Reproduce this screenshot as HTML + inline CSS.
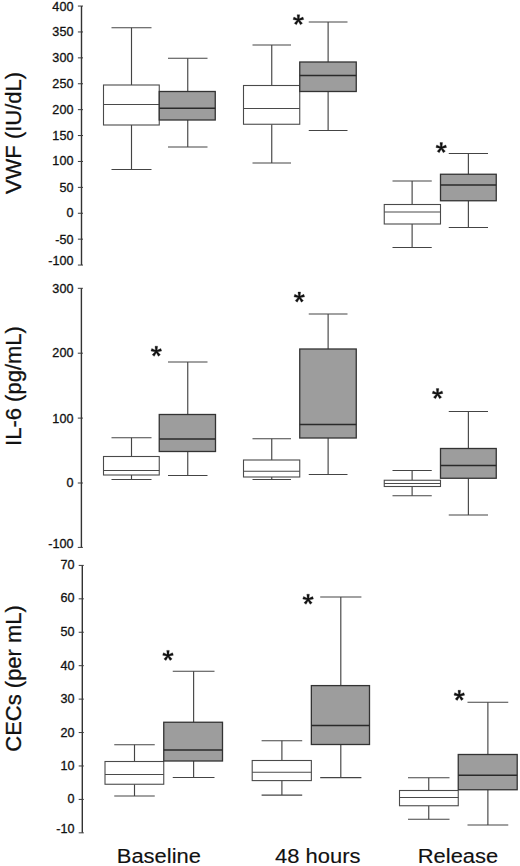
<!DOCTYPE html>
<html><head><meta charset="utf-8"><style>
html,body{margin:0;padding:0;background:#fff;}
svg{display:block;}
text{font-family:"Liberation Sans",sans-serif;fill:#111;stroke:#111;stroke-width:0.3px;}
.tl{font-size:12px;text-anchor:end;}
.ti{font-size:22px;text-anchor:middle;}
.xl{font-size:21px;text-anchor:middle;stroke-width:0.15px;}
.st{font-size:29px;font-weight:bold;text-anchor:middle;stroke-width:0.7px;}
</style></head><body>
<svg width="520" height="866" viewBox="0 0 520 866">
<g stroke="#3a3a3a" stroke-width="1.2" fill="none">
<line x1="81.5" y1="6.06" x2="81.5" y2="265.06" stroke="#333" stroke-width="1.4" />
<line x1="77.9" y1="6.06" x2="83" y2="6.06" stroke-width="1" />
<line x1="77.9" y1="31.96" x2="83" y2="31.96" stroke-width="1" />
<line x1="77.9" y1="57.86" x2="83" y2="57.86" stroke-width="1" />
<line x1="77.9" y1="83.76" x2="83" y2="83.76" stroke-width="1" />
<line x1="77.9" y1="109.66" x2="83" y2="109.66" stroke-width="1" />
<line x1="77.9" y1="135.56" x2="83" y2="135.56" stroke-width="1" />
<line x1="77.9" y1="161.46" x2="83" y2="161.46" stroke-width="1" />
<line x1="77.9" y1="187.36" x2="83" y2="187.36" stroke-width="1" />
<line x1="77.9" y1="213.26" x2="83" y2="213.26" stroke-width="1" />
<line x1="77.9" y1="239.16" x2="83" y2="239.16" stroke-width="1" />
<line x1="77.9" y1="265.06" x2="83" y2="265.06" stroke-width="1" />
<text transform="translate(73.4,10.6) scale(1.05,1)" class="tl">400</text>
<text transform="translate(73.4,36) scale(1.05,1)" class="tl">350</text>
<text transform="translate(73.4,61.7) scale(1.05,1)" class="tl">300</text>
<text transform="translate(73.4,87.6) scale(1.05,1)" class="tl">250</text>
<text transform="translate(73.4,113.5) scale(1.05,1)" class="tl">200</text>
<text transform="translate(73.4,139.6) scale(1.05,1)" class="tl">150</text>
<text transform="translate(73.4,165.4) scale(1.05,1)" class="tl">100</text>
<text transform="translate(73.4,191.5) scale(1.05,1)" class="tl">50</text>
<text transform="translate(73.4,217) scale(1.05,1)" class="tl">0</text>
<text transform="translate(73.4,243.5) scale(1.05,1)" class="tl">-50</text>
<text transform="translate(73.4,265.1) scale(1.05,1)" class="tl">-100</text>
<line x1="81.4" y1="288.3" x2="81.4" y2="547.4" stroke="#333" stroke-width="1.4" />
<line x1="77.8" y1="288.3" x2="82.9" y2="288.3" stroke-width="1" />
<line x1="77.8" y1="353.2" x2="82.9" y2="353.2" stroke-width="1" />
<line x1="77.8" y1="418.1" x2="82.9" y2="418.1" stroke-width="1" />
<line x1="77.8" y1="483" x2="82.9" y2="483" stroke-width="1" />
<line x1="77.8" y1="547.4" x2="82.9" y2="547.4" stroke-width="1" />
<text transform="translate(73.4,293.1) scale(1.05,1)" class="tl">300</text>
<text transform="translate(73.4,357.1) scale(1.05,1)" class="tl">200</text>
<text transform="translate(73.4,422.6) scale(1.05,1)" class="tl">100</text>
<text transform="translate(73.4,486.9) scale(1.05,1)" class="tl">0</text>
<text transform="translate(73.4,547.7) scale(1.05,1)" class="tl">-100</text>
<line x1="82.3" y1="565.4" x2="82.3" y2="832.84" stroke="#333" stroke-width="1.4" />
<line x1="78.7" y1="565.4" x2="83.8" y2="565.4" stroke-width="1" />
<line x1="78.7" y1="598.83" x2="83.8" y2="598.83" stroke-width="1" />
<line x1="78.7" y1="632.26" x2="83.8" y2="632.26" stroke-width="1" />
<line x1="78.7" y1="665.69" x2="83.8" y2="665.69" stroke-width="1" />
<line x1="78.7" y1="699.12" x2="83.8" y2="699.12" stroke-width="1" />
<line x1="78.7" y1="732.55" x2="83.8" y2="732.55" stroke-width="1" />
<line x1="78.7" y1="765.98" x2="83.8" y2="765.98" stroke-width="1" />
<line x1="78.7" y1="799.41" x2="83.8" y2="799.41" stroke-width="1" />
<line x1="78.7" y1="832.84" x2="83.8" y2="832.84" stroke-width="1" />
<text transform="translate(74.4,568.9) scale(1.05,1)" class="tl">70</text>
<text transform="translate(74.4,602.1) scale(1.05,1)" class="tl">60</text>
<text transform="translate(74.4,636.4) scale(1.05,1)" class="tl">50</text>
<text transform="translate(74.4,669.5) scale(1.05,1)" class="tl">40</text>
<text transform="translate(74.4,703.4) scale(1.05,1)" class="tl">30</text>
<text transform="translate(74.4,737.3) scale(1.05,1)" class="tl">20</text>
<text transform="translate(74.4,769.8) scale(1.05,1)" class="tl">10</text>
<text transform="translate(74.4,803.4) scale(1.05,1)" class="tl">0</text>
<text transform="translate(74.4,832.8) scale(1.05,1)" class="tl">-10</text>
<g stroke="#444" stroke-width="1.15"><line x1="131.5" y1="27.75" x2="131.5" y2="85" /><line x1="131.5" y1="125" x2="131.5" y2="169.5" /><line x1="111.5" y1="27.75" x2="151.5" y2="27.75" /><line x1="111.5" y1="169.5" x2="151.5" y2="169.5" /></g>
<g stroke="#444" stroke-width="1.15"><line x1="187.75" y1="58.25" x2="187.75" y2="91.5" /><line x1="187.75" y1="120" x2="187.75" y2="147" /><line x1="168" y1="58.25" x2="207.5" y2="58.25" /><line x1="168" y1="147" x2="207.5" y2="147" /></g>
<g stroke="#444" stroke-width="1.15"><line x1="271.75" y1="45" x2="271.75" y2="85.5" /><line x1="271.75" y1="124.25" x2="271.75" y2="163" /><line x1="252.5" y1="45" x2="291" y2="45" /><line x1="252.5" y1="163" x2="291" y2="163" /></g>
<g stroke="#444" stroke-width="1.15"><line x1="328.12" y1="22" x2="328.12" y2="62" /><line x1="328.12" y1="91.5" x2="328.12" y2="130.5" /><line x1="308.75" y1="22" x2="347.5" y2="22" /><line x1="308.75" y1="130.5" x2="347.5" y2="130.5" /></g>
<g stroke="#444" stroke-width="1.15"><line x1="412.12" y1="181" x2="412.12" y2="204.5" /><line x1="412.12" y1="224" x2="412.12" y2="247.5" /><line x1="392.5" y1="181" x2="431.75" y2="181" /><line x1="392.5" y1="247.5" x2="431.75" y2="247.5" /></g>
<g stroke="#444" stroke-width="1.15"><line x1="468.38" y1="153.5" x2="468.38" y2="174.25" /><line x1="468.38" y1="200.75" x2="468.38" y2="227.5" /><line x1="448.75" y1="153.5" x2="488" y2="153.5" /><line x1="448.75" y1="227.5" x2="488" y2="227.5" /></g>
<g stroke="#444" stroke-width="1.15"><line x1="131.5" y1="437.75" x2="131.5" y2="456.5" /><line x1="131.5" y1="475" x2="131.5" y2="479.5" /><line x1="111.5" y1="437.75" x2="151.5" y2="437.75" /><line x1="111.5" y1="479.5" x2="151.5" y2="479.5" /></g>
<g stroke="#444" stroke-width="1.15"><line x1="187.75" y1="362" x2="187.75" y2="414.5" /><line x1="187.75" y1="451.5" x2="187.75" y2="475.5" /><line x1="168" y1="362" x2="207.5" y2="362" /><line x1="168" y1="475.5" x2="207.5" y2="475.5" /></g>
<g stroke="#444" stroke-width="1.15"><line x1="271.75" y1="438.75" x2="271.75" y2="460" /><line x1="271.75" y1="477" x2="271.75" y2="479.5" /><line x1="252.5" y1="438.75" x2="291" y2="438.75" /><line x1="252.5" y1="479.5" x2="291" y2="479.5" /></g>
<g stroke="#444" stroke-width="1.15"><line x1="328.12" y1="314" x2="328.12" y2="349" /><line x1="328.12" y1="438" x2="328.12" y2="474.5" /><line x1="308.75" y1="314" x2="347.5" y2="314" /><line x1="308.75" y1="474.5" x2="347.5" y2="474.5" /></g>
<g stroke="#444" stroke-width="1.15"><line x1="412.12" y1="470.5" x2="412.12" y2="480.25" /><line x1="412.12" y1="486.5" x2="412.12" y2="495.75" /><line x1="392.5" y1="470.5" x2="431.75" y2="470.5" /><line x1="392.5" y1="495.75" x2="431.75" y2="495.75" /></g>
<g stroke="#444" stroke-width="1.15"><line x1="468.38" y1="411.5" x2="468.38" y2="448.5" /><line x1="468.38" y1="478.25" x2="468.38" y2="515" /><line x1="448.75" y1="411.5" x2="488" y2="411.5" /><line x1="448.75" y1="515" x2="488" y2="515" /></g>
<g stroke="#444" stroke-width="1.15"><line x1="134.5" y1="744.75" x2="134.5" y2="761.5" /><line x1="134.5" y1="784.25" x2="134.5" y2="796" /><line x1="114.25" y1="744.75" x2="154.75" y2="744.75" /><line x1="114.25" y1="796" x2="154.75" y2="796" /></g>
<g stroke="#444" stroke-width="1.15"><line x1="193.62" y1="671.25" x2="193.62" y2="722.25" /><line x1="193.62" y1="761" x2="193.62" y2="777.5" /><line x1="172.75" y1="671.25" x2="214.5" y2="671.25" /><line x1="172.75" y1="777.5" x2="214.5" y2="777.5" /></g>
<g stroke="#444" stroke-width="1.15"><line x1="281.9" y1="740.7" x2="281.9" y2="760.5" /><line x1="281.9" y1="780.6" x2="281.9" y2="795.1" /><line x1="261.6" y1="740.7" x2="302.2" y2="740.7" /><line x1="261.6" y1="795.1" x2="302.2" y2="795.1" /></g>
<g stroke="#444" stroke-width="1.15"><line x1="340.8" y1="597" x2="340.8" y2="685.6" /><line x1="340.8" y1="744.5" x2="340.8" y2="777.6" /><line x1="320.2" y1="597" x2="361.4" y2="597" /><line x1="320.2" y1="777.6" x2="361.4" y2="777.6" /></g>
<g stroke="#444" stroke-width="1.15"><line x1="428.75" y1="777.75" x2="428.75" y2="790.5" /><line x1="428.75" y1="805.75" x2="428.75" y2="819.25" /><line x1="408" y1="777.75" x2="449.5" y2="777.75" /><line x1="408" y1="819.25" x2="449.5" y2="819.25" /></g>
<g stroke="#444" stroke-width="1.15"><line x1="487.88" y1="702.25" x2="487.88" y2="754.5" /><line x1="487.88" y1="789.75" x2="487.88" y2="825" /><line x1="467.5" y1="702.25" x2="508.25" y2="702.25" /><line x1="467.5" y1="825" x2="508.25" y2="825" /></g>
<rect x="103.5" y="85" width="55.75" height="40" fill="#fff" stroke="#4a4a4a" stroke-width="1.1" />
<line x1="103.5" y1="104.5" x2="159.25" y2="104.5" stroke="#4a4a4a" stroke-width="1.1" />
<rect x="159.25" y="91.5" width="56" height="28.5" fill="#9d9d9d" stroke="#333" stroke-width="1.3" />
<line x1="159.25" y1="108.25" x2="215.25" y2="108.25" stroke="#2a2a2a" stroke-width="1.6" />
<rect x="243.5" y="85.5" width="56.25" height="38.75" fill="#fff" stroke="#4a4a4a" stroke-width="1.1" />
<line x1="243.5" y1="108.5" x2="299.75" y2="108.5" stroke="#4a4a4a" stroke-width="1.1" />
<rect x="299.75" y="62" width="56.5" height="29.5" fill="#9d9d9d" stroke="#333" stroke-width="1.3" />
<line x1="299.75" y1="75.5" x2="356.25" y2="75.5" stroke="#2a2a2a" stroke-width="1.6" />
<rect x="384.25" y="204.5" width="56.25" height="19.5" fill="#fff" stroke="#4a4a4a" stroke-width="1.1" />
<line x1="384.25" y1="212" x2="440.5" y2="212" stroke="#4a4a4a" stroke-width="1.1" />
<rect x="440.5" y="174.25" width="55.75" height="26.5" fill="#9d9d9d" stroke="#333" stroke-width="1.3" />
<line x1="440.5" y1="185" x2="496.25" y2="185" stroke="#2a2a2a" stroke-width="1.6" />
<rect x="103.5" y="456.5" width="55.75" height="18.5" fill="#fff" stroke="#4a4a4a" stroke-width="1.1" />
<line x1="103.5" y1="470.5" x2="159.25" y2="470.5" stroke="#4a4a4a" stroke-width="1.1" />
<rect x="159.25" y="414.5" width="56.25" height="37" fill="#9d9d9d" stroke="#333" stroke-width="1.3" />
<line x1="159.25" y1="439" x2="215.5" y2="439" stroke="#2a2a2a" stroke-width="1.6" />
<rect x="243.5" y="460" width="56.25" height="17" fill="#fff" stroke="#4a4a4a" stroke-width="1.1" />
<line x1="243.5" y1="471.25" x2="299.75" y2="471.25" stroke="#4a4a4a" stroke-width="1.1" />
<rect x="299.75" y="349" width="56.5" height="89" fill="#9d9d9d" stroke="#333" stroke-width="1.3" />
<line x1="299.75" y1="424.5" x2="356.25" y2="424.5" stroke="#2a2a2a" stroke-width="1.6" />
<rect x="384.25" y="480.25" width="56.25" height="6.25" fill="#fff" stroke="#4a4a4a" stroke-width="1.1" />
<line x1="384.25" y1="483.5" x2="440.5" y2="483.5" stroke="#4a4a4a" stroke-width="1.1" />
<rect x="440.5" y="448.5" width="55.75" height="29.75" fill="#9d9d9d" stroke="#333" stroke-width="1.3" />
<line x1="440.5" y1="465.5" x2="496.25" y2="465.5" stroke="#2a2a2a" stroke-width="1.6" />
<rect x="105" y="761.5" width="58.75" height="22.75" fill="#fff" stroke="#4a4a4a" stroke-width="1.1" />
<line x1="105" y1="774.5" x2="163.75" y2="774.5" stroke="#4a4a4a" stroke-width="1.1" />
<rect x="163.75" y="722.25" width="58.75" height="38.75" fill="#9d9d9d" stroke="#333" stroke-width="1.3" />
<line x1="163.75" y1="750" x2="222.5" y2="750" stroke="#2a2a2a" stroke-width="1.6" />
<rect x="252.2" y="760.5" width="59.15" height="20.1" fill="#fff" stroke="#4a4a4a" stroke-width="1.1" />
<line x1="252.2" y1="772.2" x2="311.35" y2="772.2" stroke="#4a4a4a" stroke-width="1.1" />
<rect x="311.35" y="685.6" width="58.15" height="58.9" fill="#9d9d9d" stroke="#333" stroke-width="1.3" />
<line x1="311.35" y1="725.5" x2="369.5" y2="725.5" stroke="#2a2a2a" stroke-width="1.6" />
<rect x="399.5" y="790.5" width="58.75" height="15.25" fill="#fff" stroke="#4a4a4a" stroke-width="1.1" />
<line x1="399.5" y1="797.5" x2="458.25" y2="797.5" stroke="#4a4a4a" stroke-width="1.1" />
<rect x="458.25" y="754.5" width="58.95" height="35.25" fill="#9d9d9d" stroke="#333" stroke-width="1.3" />
<line x1="458.25" y1="775.25" x2="517.2" y2="775.25" stroke="#2a2a2a" stroke-width="1.6" />
<path d="M299.10,19.90 L299.70,14.70 L297.10,14.70 L297.70,19.90ZM298.62,20.57 L303.75,19.53 L302.94,17.06 L298.18,19.23ZM297.83,20.31 L300.40,24.87 L302.51,23.34 L298.97,19.49ZM297.83,19.49 L294.29,23.34 L296.40,24.87 L298.97,20.31ZM298.62,19.23 L293.86,17.06 L293.05,19.53 L298.18,20.57Z" fill="#111" stroke="#111" stroke-width="0.3" stroke-linejoin="round"/>
<path d="M441.95,147.80 L442.55,142.60 L439.95,142.60 L440.55,147.80ZM441.47,148.47 L446.60,147.43 L445.79,144.96 L441.03,147.13ZM440.68,148.21 L443.25,152.77 L445.36,151.24 L441.82,147.39ZM440.68,147.39 L437.14,151.24 L439.25,152.77 L441.82,148.21ZM441.47,147.13 L436.71,144.96 L435.90,147.43 L441.03,148.47Z" fill="#111" stroke="#111" stroke-width="0.3" stroke-linejoin="round"/>
<path d="M157.00,351.40 L157.60,346.20 L155.00,346.20 L155.60,351.40ZM156.52,352.07 L161.65,351.03 L160.84,348.56 L156.08,350.73ZM155.73,351.81 L158.30,356.37 L160.41,354.84 L156.87,350.99ZM155.73,350.99 L152.19,354.84 L154.30,356.37 L156.87,351.81ZM156.52,350.73 L151.76,348.56 L150.95,351.03 L156.08,352.07Z" fill="#111" stroke="#111" stroke-width="0.3" stroke-linejoin="round"/>
<path d="M300.00,297.20 L300.60,292.00 L298.00,292.00 L298.60,297.20ZM299.52,297.87 L304.65,296.83 L303.84,294.36 L299.08,296.53ZM298.73,297.61 L301.30,302.17 L303.41,300.64 L299.87,296.79ZM298.73,296.79 L295.19,300.64 L297.30,302.17 L299.87,297.61ZM299.52,296.53 L294.76,294.36 L293.95,296.83 L299.08,297.87Z" fill="#111" stroke="#111" stroke-width="0.3" stroke-linejoin="round"/>
<path d="M438.25,393.80 L438.85,388.60 L436.25,388.60 L436.85,393.80ZM437.77,394.47 L442.90,393.43 L442.09,390.96 L437.33,393.13ZM436.98,394.21 L439.55,398.77 L441.66,397.24 L438.12,393.39ZM436.98,393.39 L433.44,397.24 L435.55,398.77 L438.12,394.21ZM437.77,393.13 L433.01,390.96 L432.20,393.43 L437.33,394.47Z" fill="#111" stroke="#111" stroke-width="0.3" stroke-linejoin="round"/>
<path d="M168.70,655.60 L169.30,650.40 L166.70,650.40 L167.30,655.60ZM168.22,656.27 L173.35,655.23 L172.54,652.76 L167.78,654.93ZM167.43,656.01 L170.00,660.57 L172.11,659.04 L168.57,655.19ZM167.43,655.19 L163.89,659.04 L166.00,660.57 L168.57,656.01ZM168.22,654.93 L163.46,652.76 L162.65,655.23 L167.78,656.27Z" fill="#111" stroke="#111" stroke-width="0.3" stroke-linejoin="round"/>
<path d="M308.80,599.40 L309.40,594.20 L306.80,594.20 L307.40,599.40ZM308.32,600.07 L313.45,599.03 L312.64,596.56 L307.88,598.73ZM307.53,599.81 L310.10,604.37 L312.21,602.84 L308.67,598.99ZM307.53,598.99 L303.99,602.84 L306.10,604.37 L308.67,599.81ZM308.32,598.73 L303.56,596.56 L302.75,599.03 L307.88,600.07Z" fill="#111" stroke="#111" stroke-width="0.3" stroke-linejoin="round"/>
<path d="M460.00,695.50 L460.60,690.30 L458.00,690.30 L458.60,695.50ZM459.52,696.17 L464.65,695.13 L463.84,692.66 L459.08,694.83ZM458.73,695.91 L461.30,700.47 L463.41,698.94 L459.87,695.09ZM458.73,695.09 L455.19,698.94 L457.30,700.47 L459.87,695.91ZM459.52,694.83 L454.76,692.66 L453.95,695.13 L459.08,696.17Z" fill="#111" stroke="#111" stroke-width="0.3" stroke-linejoin="round"/>
<text transform="translate(21,133) rotate(-90) scale(1,1.045)" class="ti">VWF (IU/dL)</text>
<text transform="translate(21,386) rotate(-90) scale(1,1.045)" class="ti">IL-6 (pg/mL)</text>
<text transform="translate(21,678.4) rotate(-90) scale(1,1.045)" class="ti">CECs (per mL)</text>
<text transform="translate(158.85,863) scale(1.045,1)" class="xl">Baseline</text>
<text transform="translate(317.8,863) scale(1.045,1)" class="xl">48 hours</text>
<text transform="translate(458,863) scale(1.045,1)" class="xl">Release</text>
</g>
</svg>
</body></html>
